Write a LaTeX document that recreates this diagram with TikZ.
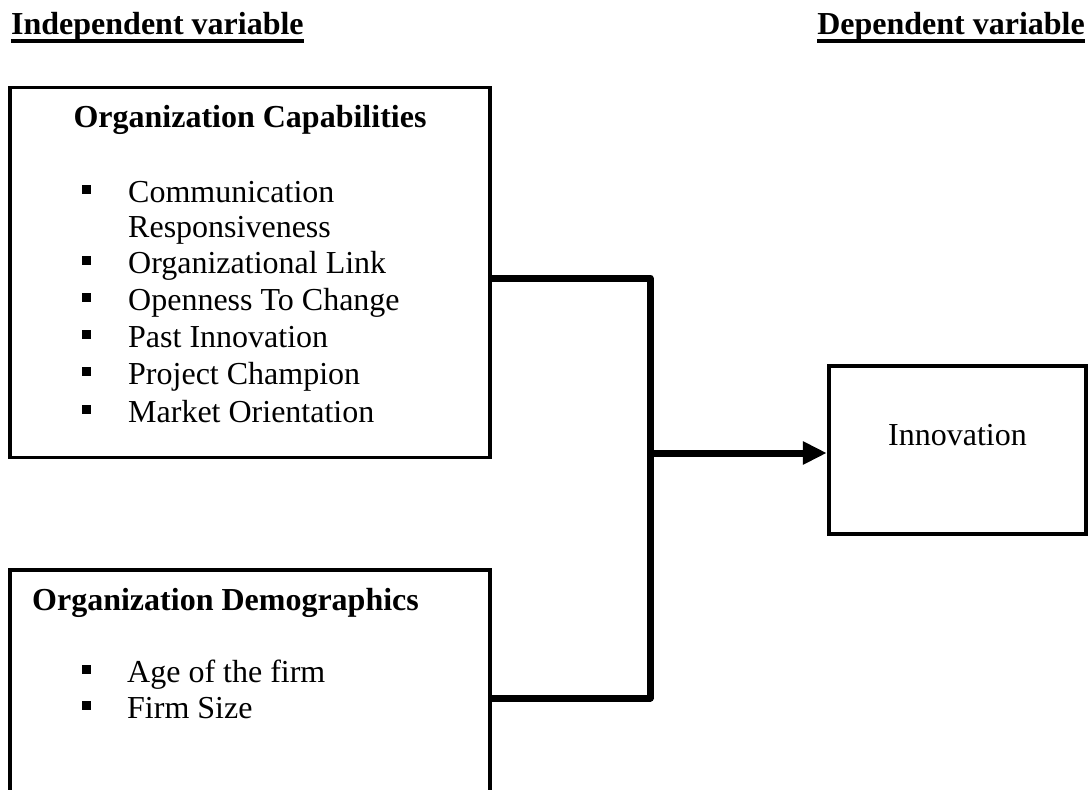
\documentclass[tikz,border=0pt]{standalone}
\usepackage{fontspec}
\setmainfont{Liberation Serif}
\usetikzlibrary{arrows.meta}
\begin{document}
\begin{tikzpicture}[x=1pt,y=-1pt,
  txt/.style={inner sep=0pt, font=\fontsize{32}{37}\selectfont},
  btxt/.style={inner sep=0pt, font=\fontsize{32}{37}\selectfont\bfseries},
  boxA/.style={draw, line width=3.5pt, inner sep=0pt, minimum width=480pt},
  boxB/.style={draw, line width=4.5pt, inner sep=0pt},
  bul/.style={fill=black, inner sep=0pt, minimum size=9pt},
  conn/.style={line width=7pt, line join=round},
  uline/.style={line width=3.3pt}]
\useasboundingbox (0,0) rectangle (1091,789);
\clip (0,0) rectangle (1091,789);

% headers
\node[btxt, anchor=base west] (h1) at (11,35) {Independent variable};
\node[btxt, anchor=base east] (h2) at (1085,35) {Dependent variable};
\draw[uline] ([yshift=-6pt]h1.base west) -- ([yshift=-6pt]h1.base east);
\draw[uline] ([yshift=-6pt]h2.base west) -- ([yshift=-6pt]h2.base east);

% boxes
\node[boxA, minimum height=370pt] (b1) at (250,272.5) {};
\node[boxA, minimum height=256pt] (b2) at (250,698) {};
\node[boxB, minimum width=257pt, minimum height=168pt] (b3) at (957.5,450) {};

% box 1 content
\node[btxt, anchor=base] (t1) at (250,128) {Organization Capabilities};
\node[txt, anchor=base west] (i1) at (128,202) {Communication};
\node[txt, anchor=base west] (i1b) at (128,237) {Responsiveness};
\node[txt, anchor=base west] (i2) at (128,273) {Organizational Link};
\node[txt, anchor=base west] (i3) at (128,310) {Openness To Change};
\node[txt, anchor=base west] (i4) at (128,347) {Past Innovation};
\node[txt, anchor=base west] (i5) at (128,384) {Project Champion};
\node[txt, anchor=base west] (i6) at (128,422) {Market Orientation};
\node[bul] (p1) at (86.5,189.5) {};
\node[bul] (p2) at (86.5,260.5) {};
\node[bul] (p3) at (86.5,297.5) {};
\node[bul] (p4) at (86.5,334.5) {};
\node[bul] (p5) at (86.5,371.5) {};
\node[bul] (p6) at (86.5,409.5) {};

% box 2 content
\node[btxt, anchor=base west] (t2) at (32,610) {Organization Demographics};
\node[txt, anchor=base west] (j1) at (127,682) {Age of the firm};
\node[txt, anchor=base west] (j2) at (127,718) {Firm Size};
\node[bul] (q1) at (86.5,669.5) {};
\node[bul] (q2) at (86.5,705.5) {};

% box 3 content
\node[txt, anchor=base] (t3) at (957.5,445) {Innovation};

% connectors
\coordinate (jn) at (650,453);
\draw[conn] ([yshift=-5.5pt]b1.east) -| (jn |- b2.east) -- (b2.east);
\draw[conn, -{Triangle[length=24pt,width=22pt]}] (jn) -- ([yshift=-3pt]b3.west);
\end{tikzpicture}
\end{document}
